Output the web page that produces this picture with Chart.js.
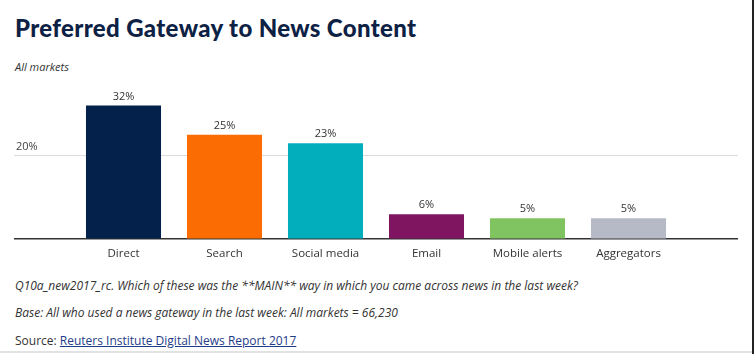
<!DOCTYPE html>
<html>
<head>
<meta charset="utf-8">
<script src="https://cdn.jsdelivr.net/npm/chart.js@4.4.1/dist/chart.umd.min.js"></script>
<style>
  html, body { margin: 0; padding: 0; background: #fff; }
  body { width: 756px; height: 354px; position: relative; overflow: hidden; font-family: 'Open Sans', sans-serif; color: #333; }
  .title { position: absolute; left: 15px; top: 13px; font-family: Lato, sans-serif; font-weight: 900; font-size: 24px; color: #0d2145; letter-spacing: 0.35px; }
  .sub { position: absolute; left: 15px; top: 59px; font-size: 11px; font-style: italic; }
  .chartbox { position: absolute; left: 0; top: 80px; width: 756px; height: 188px; }
  .note { position: absolute; left: 15px; font-size: 12px; }
  .note.it { font-style: italic; }
  .note a { color: #1f3c88; text-decoration: underline; }
  .rline { position: absolute; left: 752px; top: 0; width: 2px; height: 354px; background: #222; }
  .bline { position: absolute; left: 0; top: 351px; width: 752px; height: 2px; background: #e2e2e2; }
</style>
</head>
<body>
<div class="title">Preferred Gateway to News Content</div>
<div class="sub">All markets</div>
<div class="chartbox"><canvas id="gatewayChart"></canvas></div>
<div class="note it" style="top:277px">Q10a_new2017_rc. Which of these was the **MAIN** way in which you came across news in the last week?</div>
<div class="note it" style="top:304px">Base: All who used a news gateway in the last week: All markets = 66,230</div>
<div class="note" style="top:332px">Source: <a href="#">Reuters Institute Digital News Report 2017</a></div>
<div class="rline"></div>
<div class="bline"></div>

<script>
  const categories = ['Direct', 'Search', 'Social media', 'Email', 'Mobile alerts', 'Aggregators'];
  const shares = [32, 25, 23, 6, 5, 5];
  const barColors = ['#03214a', '#fb6c02', '#02aebc', '#7f1460', '#80c461', '#b6bac7'];
  const tickValues = [0, 20];

  {
    'use strict';

    const setTicks = function(scale){
      scale.ticks = tickValues.map(v => ({ value: v }));
    };

    const lineColor = function(ctx){
      return ctx.tick && ctx.tick.value === 0 ? '#333' : '#dcdcdc';
    };

    const lineWidth = function(ctx){
      return ctx.tick && ctx.tick.value === 0 ? 1.5 : 1;
    };

    // value labels above the bars
    const barValues = {
      id: 'barValues',
      afterDatasetsDraw(chart){
        const ctx = chart.ctx;
        const meta = chart.getDatasetMeta(0);
        ctx.save();
        ctx.font = '11px "Open Sans"';
        ctx.fillStyle = '#333';
        ctx.textAlign = 'center';
        ctx.textBaseline = 'middle';
        meta.data.forEach((bar, i) => {
          ctx.fillText(shares[i] + '%', bar.x, bar.y - 9);
        });
        ctx.restore();
      }
    };

    const initChart = function(){
      const ctx = document.getElementById('gatewayChart').getContext('2d');
      // eslint-disable-next-line no-unused-vars
      const gatewayChart = new Chart(ctx, {
        type: 'bar',
        data: {
          labels: categories,
          datasets: [{
            data: shares,
            backgroundColor: barColors,
            borderWidth: 0,
            categoryPercentage: 1,
            barPercentage: 0.743,
          }]
        },
        options: {
          responsive: true,
          maintainAspectRatio: false,
          animation: false,
          layout: {
            padding: { top: 13, left: 16, right: 18, bottom: 0 },
          },
          plugins: {
            legend: { display: false },
            tooltip: { enabled: false },
          },
          scales: {
            x: {
              grid: { display: false, drawTicks: false },
              border: { display: false },
              ticks: {
                padding: 7.5,
                color: '#333',
                font: { family: 'Open Sans', size: 11.5 },
              },
            },
            y: {
              position: 'left',
              min: 0,
              max: 35,
              afterBuildTicks: setTicks,
              afterFit: function(scale){ scale.width = 57; },
              border: { display: false },
              grid: {
                color: lineColor,
                lineWidth: lineWidth,
                tickLength: 59,
              },
              ticks: {
                crossAlign: 'far',
                labelOffset: -9,
                color: '#444',
                font: { family: 'Open Sans', size: 11 },
                callback: (v) => v === 0 ? '' : v + '%',
              },
            },
            yRight: {
              position: 'right',
              min: 0,
              max: 35,
              afterBuildTicks: setTicks,
              afterFit: function(scale){ scale.width = 59; },
              border: { display: false },
              grid: {
                drawOnChartArea: false,
                color: lineColor,
                lineWidth: lineWidth,
                tickLength: 59,
              },
              ticks: { display: false },
            },
          },
        },
        plugins: [barValues],
      });
    };

    initChart();
  }
</script>
</body>
</html>
